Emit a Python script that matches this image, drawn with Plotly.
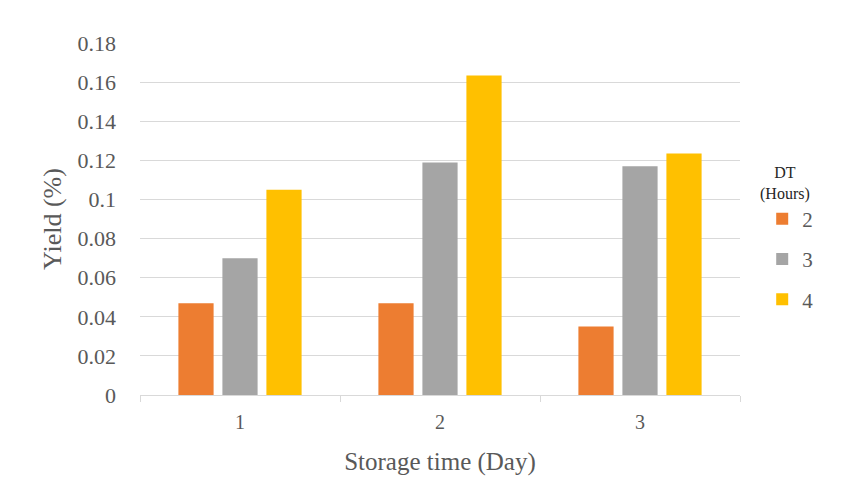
import plotly.graph_objects as go

categories = ["1", "2", "3"]
series_names = ["2", "3", "4"]
dt2 = [0.047, 0.047, 0.035]
dt3 = [0.070, 0.119, 0.117]
dt4 = [0.105, 0.1635, 0.1235]
colors = ["#ED7D31", "#A5A5A5", "#FFC000"]
yticks = [0, 0.02, 0.04, 0.06, 0.08, 0.1, 0.12, 0.14, 0.16, 0.18]
ytick_text = ["0", "0.02", "0.04", "0.06", "0.08", "0.1", "0.12", "0.14", "0.16", "0.18"]
legend_title = "DT<br>(Hours)"

font_family = "Liberation Serif"
text_color = "#595959"

fig = go.Figure()
for i, (name, vals) in enumerate(zip(series_names, [dt2, dt3, dt4])):
    fig.add_trace(go.Bar(
        x=categories, y=vals, name=name,
        marker=dict(color=colors[i], line=dict(width=0)),
        legendgroup=name,
    ))

fig.update_layout(
    width=851, height=492,
    margin=dict(l=140, r=111, t=43, b=97),
    paper_bgcolor="white", plot_bgcolor="white",
    barmode="group", bargap=0.34, bargroupgap=0.2,
    font=dict(family=font_family, color=text_color, size=20),
    legend=dict(
        x=1.037, xanchor="left", y=0.558, yanchor="top",
        traceorder="grouped", tracegroupgap=10,
        font=dict(family=font_family, size=21, color=text_color),
        bgcolor="rgba(0,0,0,0)",
    ),
    annotations=[dict(
        text=legend_title, x=1.075, y=0.602, xref="paper", yref="paper",
        xanchor="center", yanchor="middle", showarrow=False, align="center",
        font=dict(family=font_family, size=16, color="#262626"),
    )],
    xaxis=dict(
        title=dict(text="Storage time (Day)", font=dict(family=font_family, size=25, color=text_color), standoff=20),
        showline=True, linecolor="#D9D9D9", linewidth=1,
        ticks="outside", tickcolor="#D9D9D9", ticklen=6,
        tickson="boundaries", showgrid=False,
        tickfont=dict(family=font_family, size=20, color=text_color),
        ticklabelstandoff=9,
    ),
    yaxis=dict(
        title=dict(text="Yield (%)", font=dict(family=font_family, size=26, color=text_color), standoff=8),
        range=[0, 0.1801], tickvals=yticks, ticktext=ytick_text,
        showgrid=True, gridcolor="#D9D9D9", gridwidth=1,
        zeroline=False, showline=False,
        tickfont=dict(family=font_family, size=22, color=text_color),
        ticks="", ticklabelstandoff=23,
    ),
)

fig.write_html("out.html")
